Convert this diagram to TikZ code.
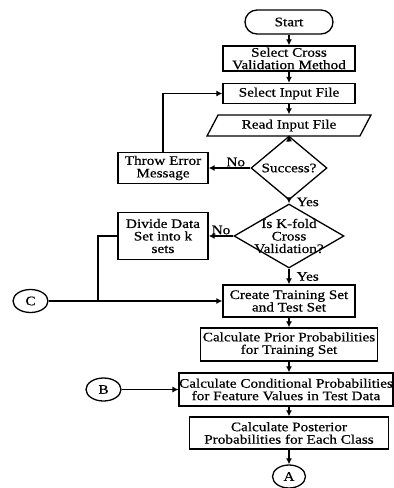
\documentclass[tikz,border=0pt]{standalone}
\usepackage{fontspec}
\setmainfont{Liberation Serif}[FakeStretch=1.17,FakeBold=0.6]
\usetikzlibrary{arrows.meta,positioning,shapes}
\tikzset{%
  arrow/.style={line width=1.3pt,-{Latex[length=6pt,width=6pt]}},
  line/.style={line width=1.3pt},
  block/.style={rectangle,draw,line width=1.3pt,align=center,inner sep=0pt},
  terminal/.style={rectangle,rounded corners=12pt,draw,line width=1.3pt,inner sep=0pt},
  io/.style={trapezium,trapezium left angle=58,trapezium right angle=122,trapezium stretches=true,draw,line width=1.3pt,inner sep=0pt},
  decision/.style={diamond,draw,line width=1.3pt,align=center,inner sep=0pt},
  entity/.style={ellipse,draw,line width=1.3pt,minimum width=35pt,minimum height=23pt,inner sep=0pt},
  answer/.style={inner sep=1pt},
}

\begin{document}
\begin{tikzpicture}[x=1pt,y=-1pt,font=\fontsize{13}{12.5}\selectfont]
      \useasboundingbox (0,0) rectangle (394,488);

      \node[terminal,minimum width=88pt,minimum height=24pt] (node_start) at (289,22) {Start};
      \node[block,minimum width=132pt,minimum height=25pt] (node_method) at (289,58.5) {Select Cross\\Validation Method};
      \node[block,minimum width=132pt,minimum height=20pt] (node_input) at (289,93.5) {Select Input File};
      \node[io,minimum width=164pt,minimum height=21pt] (node_read) at (289,125.5) {Read Input File};

      \node[decision,minimum width=76pt,minimum height=42pt] (node_success) at (289,168) {Success?};
      \node[block,minimum width=90pt,minimum height=31pt] (node_error) at (163,168) {Throw Error\\Message};

      \node[decision,minimum width=110pt,minimum height=64pt,inner xsep=-12pt,inner ysep=-10pt] (node_kfold) at (289,236) {Is K-fold\\Cross\\Validation?};
      \node[block,minimum width=90pt,minimum height=47pt] (node_divide) at (163,236) {Divide Data\\Set into k\\sets};

      \node[entity] (node_c) at (30.5,301) {C};
      \coordinate (join_c) at (98,301);
      \node[block,minimum width=132pt,minimum height=32pt] (node_create) at (289,301) {Create Training Set\\and Test Set};
      \node[block,minimum width=177pt,minimum height=33pt] (node_prior) at (289,344.5) {Calculate Prior Probabilities\\for Training Set};

      \node[entity] (node_b) at (103.5,389.5) {B};
      \node[block,minimum width=213pt,minimum height=33pt] (node_cond) at (286,389.5) {Calculate Conditional Probabilities\\for Feature Values in Test Data};
      \node[block,minimum width=199pt,minimum height=32pt] (node_post) at (289,433) {Calculate Posterior\\Probabilities for Each Class};
      \node[entity,minimum width=33pt] (node_a) at (289,476.5) {A};

      \draw[arrow] (node_start) -- (node_method);
      \draw[arrow] (node_method) -- (node_input);
      \draw[arrow] (node_input) -- (node_read);
      \draw[arrow] (node_read) -- (node_success);

      \draw[arrow] (node_success) -- (node_error) node[answer,pos=0.35,above] {No};
      \draw[arrow] (node_error) |- (node_input);
      \draw[arrow] (node_success) -- (node_kfold) node[answer,midway,right,xshift=6pt] {Yes};

      \draw[arrow] (node_kfold) -- (node_divide) node[answer,midway,above] {No};
      \draw[line] (node_divide) -| (join_c);
      \draw[arrow] (node_c) -- (node_create);
      \draw[arrow] (node_kfold) -- (node_create) node[answer,midway,right,xshift=6pt] {Yes};

      \draw[arrow] (node_create) -- (node_prior);
      \draw[arrow] (node_prior) -- (node_prior |- node_cond.north);
      \draw[arrow] (node_b) -- (node_cond);
      \draw[arrow] (node_prior |- node_cond.south) -- (node_post);
      \draw[arrow] (node_post) -- (node_a);
    \end{tikzpicture}
\end{document}
